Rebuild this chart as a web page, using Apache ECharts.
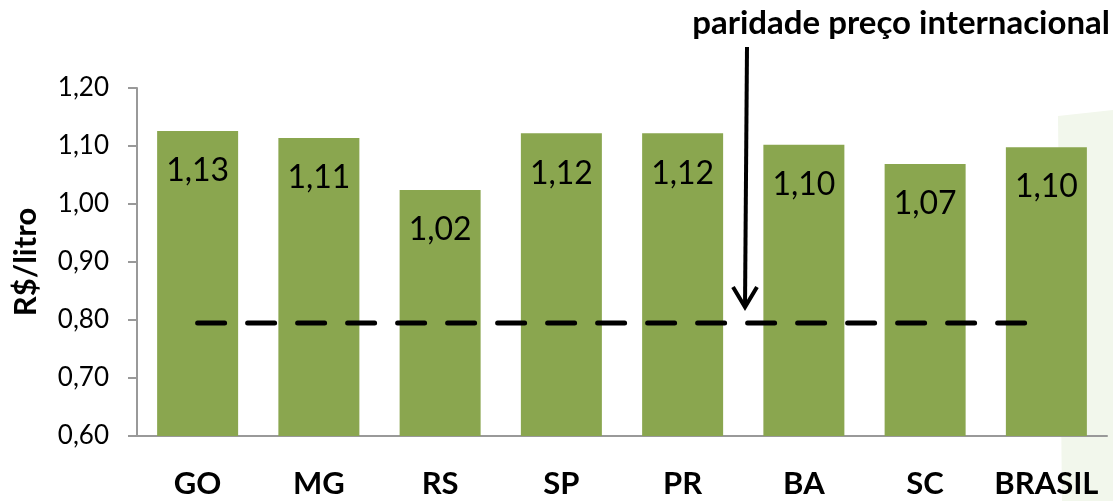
<!DOCTYPE html>
<html>
<head>
<meta charset="utf-8">
<script src="https://cdn.jsdelivr.net/npm/echarts@6/dist/echarts.min.js"></script>
<style>
  html, body { margin: 0; padding: 0; background: #fff; }
  #chart { width: 1113px; height: 501px; }
</style>
</head>
<body>
<div id="chart"></div>
<script>
  // dados
  const estados = ['GO', 'MG', 'RS', 'SP', 'PR', 'BA', 'SC', 'BRASIL']
  const precos = [1.126, 1.114, 1.024, 1.122, 1.122, 1.102, 1.069, 1.098]
  const paridade = 0.795
  const yMin = 0.6
  const yMax = 1.2
  const yStep = 0.1

  const fonte = 'Lato, "Open Sans", sans-serif'
  const virgula = (v, casas) => v.toFixed(casas).replace('.', ',')

  const chart = echarts.init(document.getElementById('chart'))
  chart.setOption({
    animation: false,
    grid: { left: 137, right: 6, top: 88, bottom: 65 },
    xAxis: {
      type: 'category',
      data: estados,
      axisLine: { lineStyle: { color: '#999', width: 2 } },
      axisTick: { length: 9, lineStyle: { color: '#999', width: 2 } },
      axisLabel: {
        interval: 0,
        color: '#000',
        fontFamily: fonte,
        fontWeight: 'bold',
        fontSize: 31,
        margin: 32,
      },
    },
    yAxis: {
      type: 'value',
      min: yMin,
      max: yMax,
      interval: yStep,
      name: 'R$/litro',
      nameLocation: 'middle',
      nameGap: 96,
      nameTextStyle: {
        color: '#000',
        fontFamily: fonte,
        fontWeight: 'bold',
        fontSize: 31,
      },
      splitLine: { show: false },
      axisLine: { show: true, lineStyle: { color: '#999', width: 2 } },
      axisTick: { show: true, length: 9, lineStyle: { color: '#999', width: 2 } },
      axisLabel: {
        color: '#000',
        fontFamily: fonte,
        fontSize: 26,
        margin: 28,
        formatter: (v) => virgula(v, 2),
      },
    },
    series: [
      {
        name: 'preço',
        type: 'bar',
        z: 3,
        barWidth: 81,
        itemStyle: { color: '#8aa64f' },
        label: {
          show: true,
          position: 'insideTop',
          distance: 24,
          color: '#000',
          fontFamily: fonte,
          fontSize: 32,
          formatter: (p) => virgula(p.value, 2),
        },
        data: precos,
      },
      {
        name: 'paridade',
        type: 'line',
        z: 4,
        symbol: 'none',
        lineStyle: { color: '#000', width: 5, type: [27, 23], cap: 'round' },
        data: estados.map(() => paridade),
      },
    ],
    graphic: [
      {
        type: 'polygon',
        z: -10,
        shape: { points: [[1058, 116], [1113, 110], [1113, 501], [1062, 501]] },
        style: { fill: '#f2f7ec' },
      },
      {
        type: 'text',
        right: 3,
        top: 7,
        style: {
          text: 'paridade preço internacional',
          fill: '#000',
          font: 'bold 33px ' + fonte,
        },
      },
      {
        type: 'line',
        shape: { x1: 747, y1: 47, x2: 745, y2: 307 },
        style: { stroke: '#000', lineWidth: 4 },
      },
      {
        type: 'polyline',
        shape: { points: [[733, 287], [745, 307], [757, 287]] },
        style: { stroke: '#000', lineWidth: 4, fill: null },
      },
    ],
  })
</script>
</body>
</html>
